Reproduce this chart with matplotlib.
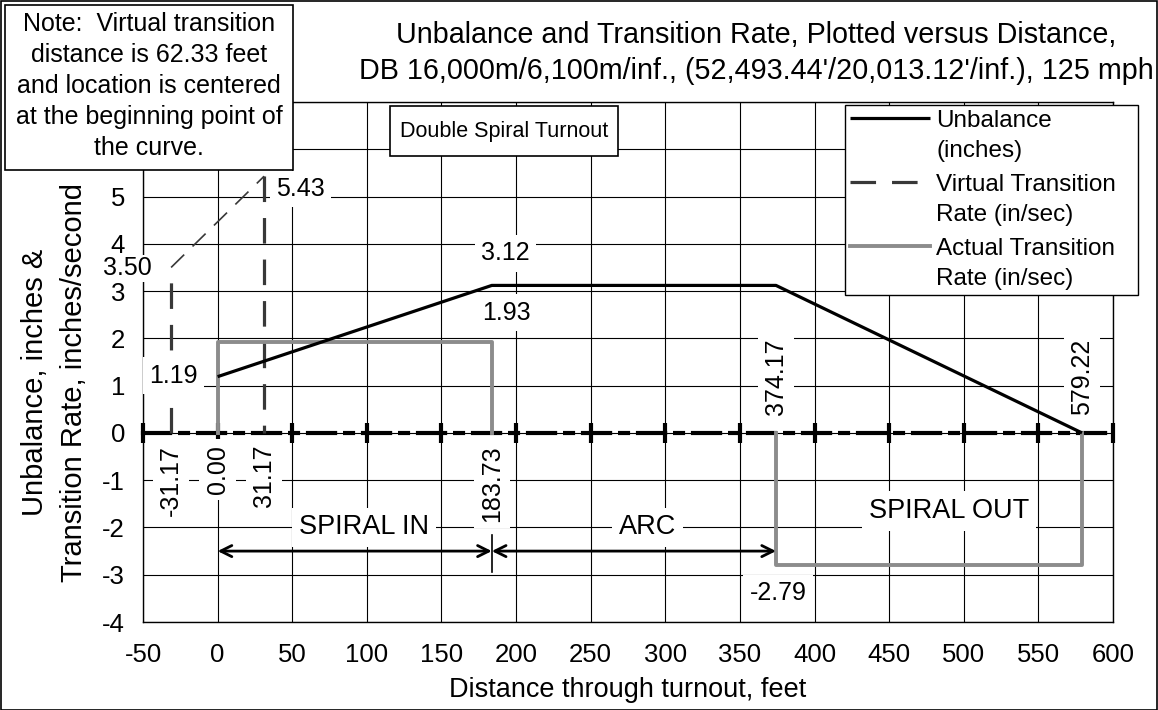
import matplotlib
matplotlib.use("Agg")
import matplotlib.pyplot as plt
from matplotlib.patches import Rectangle
from matplotlib.lines import Line2D
from matplotlib.legend_handler import HandlerLine2D

plt.rcParams['font.family'] = ['Liberation Sans', 'DejaVu Sans']
plt.rcParams['axes.unicode_minus'] = False

# ---------------- data ----------------
unb_x = [0.0, 183.73, 374.17, 579.22]
unb_y = [1.19, 3.12, 3.12, 0.0]

virt_in_x = [-31.17, -31.17]
virt_in_y = [0.0, 3.50]
virt_slope_x = [-31.17, 31.17]
virt_slope_y = [3.50, 5.43]
virt_out_x = [31.17, 31.17]
virt_out_y = [5.43, 0.0]

act_in_x = [0.0, 0.0, 183.73, 183.73]
act_in_y = [0.0, 1.93, 1.93, 0.0]
act_out_x = [374.17, 374.17, 579.22, 579.22]
act_out_y = [0.0, -2.79, -2.79, 0.0]

x_ticks = list(range(-50, 601, 50))
y_ticks = list(range(-4, 8))
y_tick_labels = [str(v) if v <= 5 else '' for v in y_ticks]

sections = ['SPIRAL IN', 'ARC', 'SPIRAL OUT']
section_bounds = [0.0, 183.73, 374.17, 579.22]
section_label_x = [98, 288, 490]
section_label_y = [-2.0, -2.0, -1.65]
arrow_level = -2.5

title_text = ("Unbalance and Transition Rate, Plotted versus Distance,\n"
              "DB 16,000m/6,100m/inf., (52,493.44'/20,013.12'/inf.), 125 mph")
note_text = ("Note:  Virtual transition\ndistance is 62.33 feet\n"
             "and location is centered\nat the beginning point of\nthe curve.")

# ---------------- figure ----------------
W, H = 1158, 710
fig = plt.figure(figsize=(W / 100, H / 100), dpi=100)
ax = fig.add_axes([143 / W, 1 - 622 / H, 970 / W, 520 / H])

TICK_FS = 18.5
LAB_FS = 18
AXT_FS = 19.5
BLACK = 'black'
VGRAY = '#383838'
AGRAY = '#8c8c8c'

ax.set_xlim(-50, 600)
ax.set_ylim(-4, 7)
ax.set_xticks(x_ticks)
ax.set_yticks(y_ticks)
ax.set_yticklabels(y_tick_labels)
ax.tick_params(axis='both', length=0, labelsize=TICK_FS)
ax.tick_params(axis='x', pad=15)
ax.tick_params(axis='y', pad=13)
ax.grid(True, color='black', lw=0.8)
ax.set_axisbelow(True)
for s in ax.spines.values():
    s.set_color('black')
    s.set_linewidth(1.0)

# zero axis (dash-dot with crossing ticks)
ymin, ymax = ax.get_ylim()
sec = ax.secondary_xaxis((0 - ymin) / (ymax - ymin))
sec.set_xticks(x_ticks)
sec.tick_params(direction='inout', length=14, width=3, labelbottom=False,
                labeltop=False, color='black')
for k in ('bottom', 'top'):
    sec.spines[k].set_linewidth(3)
    sec.spines[k].set_linestyle((0, (6.5, 2.4, 1.9, 2.4)))
    sec.spines[k].set_color('black')

# series
ax.plot(unb_x, unb_y, color=BLACK, lw=2.3, label='Unbalance\n(inches)', zorder=4,
        solid_capstyle='butt')
ax.plot(virt_in_x, virt_in_y, color=VGRAY, lw=2.3, dashes=(8, 5),
        label='Virtual Transition\nRate (in/sec)', zorder=3)
ax.plot(virt_out_x, virt_out_y, color=VGRAY, lw=2.3, dashes=(8, 5), zorder=3)
ax.plot(virt_slope_x, virt_slope_y, color=VGRAY, lw=1.2, dashes=(11, 7), zorder=3)
ax.plot(act_in_x, act_in_y, color=AGRAY, lw=2.8, label='Actual Transition\nRate (in/sec)',
        zorder=3)
ax.plot(act_out_x, act_out_y, color=AGRAY, lw=2.8, zorder=3)


def lab(txt, x, y, dx, dy, ha='center', va='center', rot=0, pad=0.25):
    ax.annotate(txt, xy=(x, y), xytext=(dx, dy), textcoords='offset pixels',
                ha=ha, va=va, rotation=rot, fontsize=LAB_FS,
                bbox=dict(boxstyle=f'square,pad={pad}', fc='white', ec='none'),
                zorder=6, annotation_clip=False)


lab(f"{virt_out_y[0]:.2f}", virt_out_x[0], virt_out_y[0], 12, -13, ha='left')
lab(f"{virt_in_y[1]:.2f}", virt_in_x[1], virt_in_y[1], -19, -1, ha='right', pad=0.05)
lab(f"{unb_y[1]:.2f}", unb_x[1], unb_y[1], 14, 32)
lab(f"{act_in_y[1]:.2f}", act_in_x[2], act_in_y[2], 15, 29)
lab(f"{unb_y[0]:.2f}", unb_x[0], unb_y[0], -20, 1, ha='right')
lab(f"{act_out_y[1]:.2f}", act_out_x[1], act_out_y[1], 2, -28)

for xv in (virt_in_x[0], act_in_x[0], virt_out_x[0], act_in_x[2]):
    lab(f"{xv:.2f}", xv, 0, 0, -12, va='top', rot=90)
for xv in (act_out_x[0], act_out_x[2]):
    lab(f"{xv:.2f}", xv, 0, 0, 18, va='bottom', rot=90)

# sections
for name, xs, ys in zip(sections, section_label_x, section_label_y):
    ax.text(xs, ys, name, ha='center', va='center', fontsize=AXT_FS,
            bbox=dict(boxstyle='square,pad=0.25', fc='white', ec='none'), zorder=5)
for a, b in ((section_bounds[0], section_bounds[1]), (section_bounds[1], section_bounds[2])):
    ax.annotate('', xy=(a, arrow_level), xytext=(b, arrow_level),
                arrowprops=dict(arrowstyle='<->', lw=2, color='black',
                                shrinkA=0, shrinkB=0, mutation_scale=20), zorder=5)
ax.plot([section_bounds[1]] * 2, [arrow_level + 0.35, arrow_level - 0.45], color='black',
        lw=1.2, zorder=5)

ax.set_xlabel('Distance through turnout, feet', fontsize=AXT_FS, labelpad=7)
ax.set_ylabel('Unbalance, inches &\nTransition Rate, inches/second', fontsize=21,
              linespacing=1.5)
ax.yaxis.set_label_coords(-0.057, 0.46)


# legend (handle aligned with the first line of each label)
class FirstLineHandler(HandlerLine2D):
    def create_artists(self, legend, orig_handle, xdescent, ydescent, width, height,
                       fontsize, trans):
        arts = super().create_artists(legend, orig_handle, xdescent, ydescent, width,
                                      height, fontsize, trans)
        for a in arts:
            if isinstance(a, Line2D):
                a.set_ydata([v + 0.75 * fontsize for v in a.get_ydata()])
        return arts


leg = ax.legend(loc='upper left', bbox_to_anchor=(845 / W, 1 - 300 / H, 293 / W, 195 / H),
                bbox_transform=fig.transFigure, mode='expand', frameon=True,
                fancybox=False, edgecolor='black', framealpha=1, fontsize=17.5,
                handlelength=3.3, handletextpad=0.25, labelspacing=0.47, borderpad=0.2,
                borderaxespad=0, handler_map={Line2D: FirstLineHandler()})
for t in leg.get_texts():
    t.set_linespacing(1.5)
leg.get_frame().set_linewidth(1.0)
leg.set_zorder(7)

# Double Spiral Turnout box
ax.add_patch(Rectangle(((390 - 143) / 970, (622 - 156) / 520), 228 / 970, 50 / 520,
                       transform=ax.transAxes, fc='white', ec='black', lw=1.2, zorder=7,
                       clip_on=False))
ax.text((504 - 143) / 970, (622 - 131) / 520, 'Double Spiral Turnout',
        transform=ax.transAxes, ha='center', va='center', fontsize=15.5, zorder=8)

# title
fig.text(756 / W, 1 - 53 / H, title_text, ha='center', va='center', fontsize=20.7,
         linespacing=1.33)

# note box
fig.patches.append(Rectangle((5 / W, 1 - 170 / H), 288 / W, 165 / H,
                             transform=fig.transFigure, fc='white', ec='black', lw=1.2,
                             zorder=5))
fig.text(149 / W, 1 - 86 / H, note_text, ha='center', va='center', fontsize=18,
         linespacing=1.38, zorder=6)

# outer border
fig.patches.append(Rectangle((0.5 / W, 0.5 / H), 1 - 1.5 / W, 1 - 1.5 / H,
                             transform=fig.transFigure, fill=False, ec='black', lw=1.2,
                             zorder=8))

fig.savefig('out.png', dpi=100)
